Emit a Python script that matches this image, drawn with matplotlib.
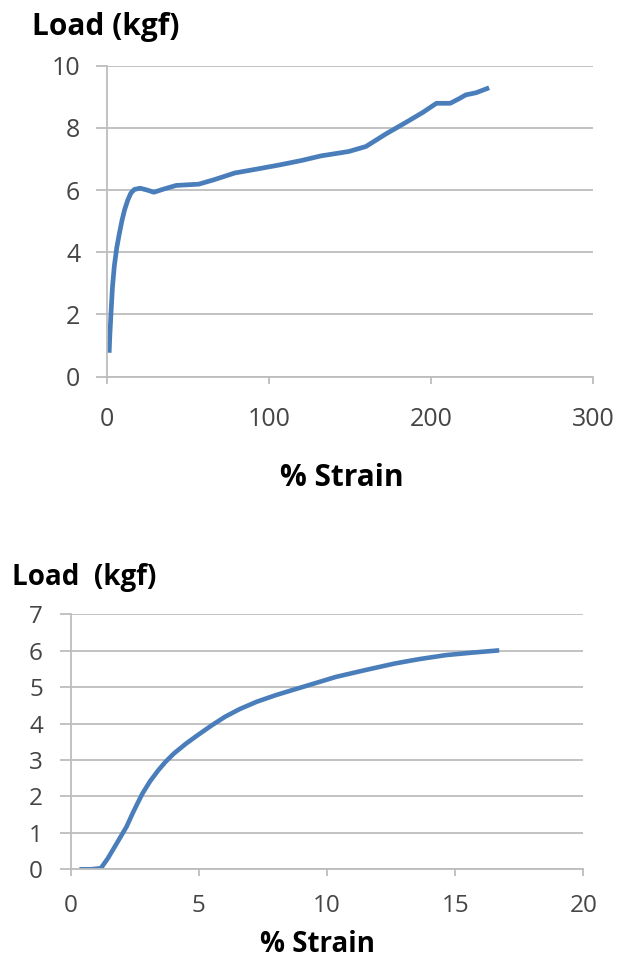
import matplotlib.pyplot as plt

# Curva 1: ensaio de tração até ~235 % de deformação
strain_a = [1.5, 1.9, 2.55, 3.5, 4.67, 6.2, 7.86, 9.4, 11.05, 13.0, 14.87, 17.0,
            20.6, 25.0, 29.1, 35.0, 42.9, 56.7, 66.0, 79.0, 92.0, 106.7, 120.0,
            132.2, 149.2, 159.8, 172.0, 185.3, 195.0, 203.3, 211.8, 217.0,
            221.4, 227.8, 235.8]
load_a = [0.77, 1.3, 1.95, 2.85, 3.55, 4.15, 4.62, 5.02, 5.37, 5.68, 5.9, 6.02,
          6.06, 6.0, 5.93, 6.03, 6.15, 6.19, 6.33, 6.55, 6.67, 6.81, 6.95,
          7.1, 7.24, 7.4, 7.8, 8.2, 8.5, 8.79, 8.79, 8.93, 9.06, 9.13, 9.29]

# Curva 2: ensaio até ~17 % de deformação
strain_b = [0.34, 0.8, 1.18, 1.45, 1.72, 2.18, 2.42, 2.6, 2.8, 3.1, 3.42, 3.7,
            4.03, 4.5, 4.95, 5.5, 6.03, 6.6, 7.26, 8.0, 8.65, 9.5, 10.34, 11.5,
            12.65, 13.6, 14.65, 15.7, 16.72]
load_b = [0.0, 0.0, 0.03, 0.3, 0.62, 1.17, 1.54, 1.8, 2.08, 2.42, 2.72, 2.95,
          3.18, 3.45, 3.68, 3.95, 4.19, 4.4, 4.6, 4.78, 4.92, 5.1, 5.28, 5.47,
          5.65, 5.77, 5.88, 5.95, 6.01]

xticks_a = [0, 100, 200, 300]
yticks_a = [0, 2, 4, 6, 8, 10]
xticks_b = [0, 5, 10, 15, 20]
yticks_b = [0, 1, 2, 3, 4, 5, 6, 7]

LINE_COLOR = '#4a7ebb'
GRID_COLOR = '#bdbdbd'
TEXT_COLOR = '#454545'

plt.rcParams['font.family'] = ['Open Sans', 'DejaVu Sans']


# Estilo "Excel": só grade horizontal, eixos cinza, sem moldura em cima/direita
def style_axes(ax, xticks, yticks, size, xpad, ypad):
    ax.set_xlim(xticks[0], xticks[-1])
    ax.set_ylim(yticks[0], yticks[-1])
    ax.set_xticks(xticks)
    ax.set_yticks(yticks)
    ax.grid(True, axis='y', color=GRID_COLOR, linewidth=1.3)
    ax.set_axisbelow(True)
    for side in ['top', 'right']:
        ax.spines[side].set_visible(False)
    for side in ['left', 'bottom']:
        ax.spines[side].set_color(GRID_COLOR)
        ax.spines[side].set_linewidth(1.3)
    ax.tick_params(axis='y', length=8, width=1.3, color=GRID_COLOR,
                   labelsize=size, labelcolor=TEXT_COLOR, pad=ypad)
    ax.tick_params(axis='x', length=5, width=1.3, color=GRID_COLOR,
                   labelsize=size, labelcolor=TEXT_COLOR, pad=xpad)


fig = plt.figure(figsize=(6.19, 9.6), dpi=100)

# Gráfico de cima
ax1 = fig.add_axes([0.1724, 0.6076, 0.786, 0.324])
ax1.plot(strain_a, load_a, color=LINE_COLOR, linewidth=3.4,
         solid_joinstyle='round', solid_capstyle='butt')
style_axes(ax1, xticks_a, yticks_a, 18, 17, 11)
fig.text(32 / 619, 1 - 27 / 960, 'Load (kgf)', fontsize=21.5, fontweight='bold',
         ha='left', va='center')
fig.text(342 / 619, 1 - 478 / 960, '% Strain', fontsize=21.5, fontweight='bold',
         ha='center', va='center')

# Gráfico de baixo
ax2 = fig.add_axes([0.1142, 0.0945, 0.8281, 0.2656])
ax2.plot(strain_b, load_b, color=LINE_COLOR, linewidth=3.3,
         solid_joinstyle='round', solid_capstyle='butt')
style_axes(ax2, xticks_b, yticks_b, 17.5, 13, 12)
fig.text(12 / 619, 1 - 578 / 960, 'Load  (kgf)', fontsize=20, fontweight='bold',
         ha='left', va='center')
fig.text(318 / 619, 1 - 944 / 960, '% Strain', fontsize=20, fontweight='bold',
         ha='center', va='center')

fig.savefig('out.png', dpi=100)
